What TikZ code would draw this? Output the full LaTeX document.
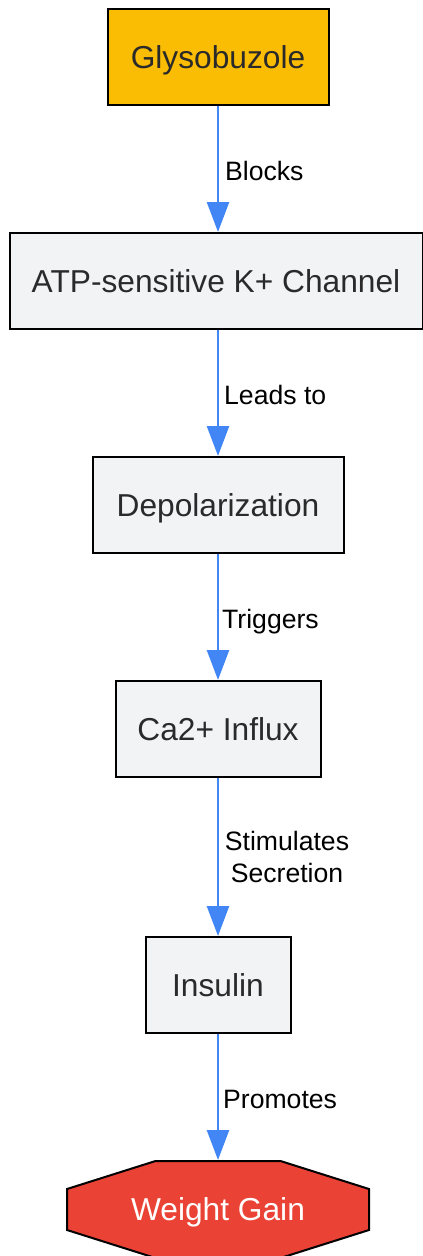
\documentclass[tikz,border=0pt]{standalone}
\usepackage{fontspec}
\setmainfont{Liberation Sans}
\usetikzlibrary{arrows.meta}
\definecolor{boxfill}{HTML}{F1F3F4}
\definecolor{drugfill}{HTML}{FBBC04}
\definecolor{gainfill}{HTML}{EA4335}
\definecolor{arrowblue}{HTML}{4285F4}
\definecolor{txt}{HTML}{2A2A2A}
\tikzset{
  stepbox/.style={draw=black, line width=2pt, fill=boxfill, text=txt,
    minimum height=96pt, text height=22.5pt, text depth=0pt, inner sep=0pt,
    font=\fontsize{31.7}{37}\selectfont},
  drugbox/.style={stepbox, fill=drugfill},
  gainnode/.style={inner sep=0pt, minimum width=302pt, minimum height=97pt,
    text height=22.5pt, text depth=0pt, text=white, font=\fontsize{31.7}{37}\selectfont},
  octa/.style={draw=black, line width=2pt, fill=gainfill},
  flow/.style={draw=arrowblue, line width=2.5pt, -{Triangle[length=30pt,width=22pt]}},
  elabel/.style={anchor=base west, inner sep=0pt, text=black, font=\fontsize{26.6}{32}\selectfont},
}
\begin{document}
\begin{tikzpicture}[x=1pt,y=-1pt]
\useasboundingbox (0,0) rectangle (423,1256);
\node[drugbox, minimum width=221pt] (g) at (218,57) {Glysobuzole};
\node[stepbox, minimum width=413pt] (atp) at (216,281) {ATP-sensitive K+ Channel};
\node[stepbox, minimum width=251pt] (dep) at (218,505) {Depolarization};
\node[stepbox, minimum width=205pt] (ca) at (218,729) {Ca2+ Influx};
\node[stepbox, minimum width=145pt] (ins) at (218,985) {Insulin};
\node[gainnode] (wg) at (218,1209.5) {};
\draw[octa] ([shift={(-62.5,-48.5)}]wg.center) -- ([shift={(62.5,-48.5)}]wg.center)
  -- ([shift={(151,-20.5)}]wg.center) -- ([shift={(151,20.5)}]wg.center)
  -- ([shift={(62.5,48.5)}]wg.center) -- ([shift={(-62.5,48.5)}]wg.center)
  -- ([shift={(-151,20.5)}]wg.center) -- ([shift={(-151,-20.5)}]wg.center) -- cycle;
\node[gainnode] at (wg.center) {Weight Gain};
\coordinate (wgtop) at ([shift={(0,-49.5)}]wg.center);

\draw[flow] (g.south) -- (g.south |- atp.north);
\draw[flow] (g.south |- atp.south) -- (dep.north);
\draw[flow] (dep.south) -- (ca.north);
\draw[flow] (ca.south) -- (ins.north);
\draw[flow] (ins.south) -- (wgtop);

\node[elabel] (l1) at (225,180) {Blocks};
\node[elabel] (l2) at (224,404) {Leads to};
\node[elabel] (l3) at (222,628) {Triggers};
\node[anchor=north, inner sep=0pt, align=center, text=black, font=\fontsize{26.6}{32}\selectfont] (l4) at (287,831) {Stimulates\\Secretion};
\node[elabel] (l5) at (223,1108) {Promotes};
\end{tikzpicture}
\end{document}
